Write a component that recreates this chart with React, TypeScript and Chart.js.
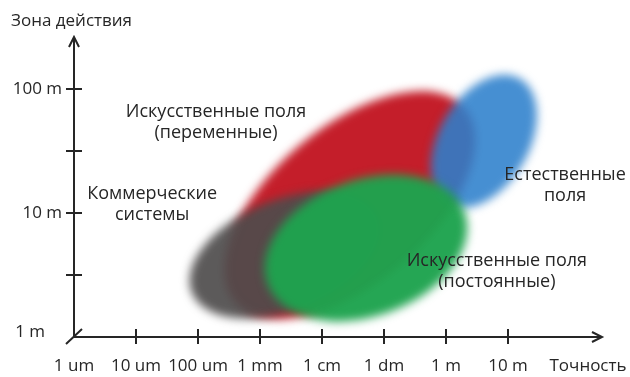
import React, { useEffect, useRef } from "react";
import { Chart, registerables } from "chart.js";

Chart.register(...registerables);

// Horizontal axis: accuracy, in decades above 1 um
const xTickLabels = ["1 um", "10 um", "100 um", "1 mm", "1 cm", "1 dm", "1 m", "10 m"];
const xTickValues = [0, 1, 2, 3, 4, 5, 6, 7];
// Vertical axis: range, in decades above 1 m
const yTickLabels = ["1 m", "10 m", "100 m"];
const yTickValues = [0, 1, 2];
const yMinorTicks = [0.5, 1.5];
const xAxisTitle = "Точность";
const yAxisTitle = "Зона действия";

// Zones (drawn in this order)
const zoneNames = [
  "Искусственные поля\n(переменные)",
  "Коммерческие\nсистемы",
  "Естественные\nполя",
  "Искусственные поля\n(постоянные)",
];
const zoneCenterX = [4.45, 3.4, 6.61, 4.71];
const zoneCenterY = [1.065, 0.661, 1.58, 0.718];
const zoneAxisEndX = [6.3, 4.9, 7.19, 6.3];
const zoneAxisEndY = [1.847, 0.964, 2.084, 1.007];
const zoneMinorRatio = [0.52, 0.55, 0.625, 0.65];
const zoneLabelX = [2.29, 1.26, 7.92, 6.82];
const zoneLabelY = [1.73, 1.07, 1.22, 0.53];
const zoneColors = [
  "rgba(196,30,42,1)",
  "rgba(78,76,76,0.92)",
  "rgba(44,128,204,0.88)",
  "rgba(30,163,78,0.97)",
];

const TEXT = "#262626";
const AXIS = "#262626";
const FONT_AXIS = "17px 'Open Sans'";
const FONT_ZONE = "18px 'Open Sans'";

const zonesPlugin = {
  id: "zones",
  beforeDatasetsDraw(chart: any) {
    const ctx = chart.ctx as CanvasRenderingContext2D;
    chart.data.datasets.forEach((_: any, i: number) => {
      const meta = chart.getDatasetMeta(i);
      const p0 = meta.data[0];
      const p1 = meta.data[1];
      const a = Math.hypot(p1.x - p0.x, p1.y - p0.y);
      const ang = Math.atan2(p1.y - p0.y, p1.x - p0.x);
      ctx.save();
      ctx.filter = "blur(5px)";
      ctx.fillStyle = zoneColors[i];
      ctx.beginPath();
      ctx.ellipse(p0.x, p0.y, a, a * zoneMinorRatio[i], ang, 0, Math.PI * 2);
      ctx.fill();
      ctx.restore();
    });
  },
  afterDraw(chart: any) {
    const ctx = chart.ctx as CanvasRenderingContext2D;
    const xs = chart.scales.x;
    const ys = chart.scales.y;
    const ox = xs.getPixelForValue(0);
    const oy = ys.getPixelForValue(0);
    const right = chart.chartArea.right;
    const top = chart.chartArea.top;
    ctx.save();
    ctx.strokeStyle = AXIS;
    ctx.lineWidth = 2;
    ctx.lineCap = "butt";
    // axes
    ctx.beginPath();
    ctx.moveTo(ox, oy);
    ctx.lineTo(ox, top + 1);
    ctx.moveTo(ox, oy);
    ctx.lineTo(right - 1, oy);
    // origin slash
    ctx.moveTo(ox - 8, oy + 7);
    ctx.lineTo(ox + 8, oy - 8);
    ctx.stroke();
    // arrows
    ctx.beginPath();
    ctx.moveTo(ox - 5, top + 10);
    ctx.lineTo(ox, top);
    ctx.lineTo(ox + 5, top + 10);
    ctx.moveTo(right - 10, oy - 5);
    ctx.lineTo(right, oy);
    ctx.lineTo(right - 10, oy + 5);
    ctx.stroke();
    // ticks
    ctx.beginPath();
    xTickValues.forEach((v) => {
      if (v === 0) return;
      const px = xs.getPixelForValue(v);
      ctx.moveTo(px, oy - 8);
      ctx.lineTo(px, oy + 7);
    });
    [...yTickValues, ...yMinorTicks].forEach((v) => {
      if (v === 0) return;
      const py = ys.getPixelForValue(v);
      ctx.moveTo(ox - 8, py);
      ctx.lineTo(ox + 8, py);
    });
    ctx.stroke();

    // labels
    ctx.fillStyle = TEXT;
    ctx.font = FONT_AXIS;
    ctx.textBaseline = "middle";
    ctx.textAlign = "center";
    xTickValues.forEach((v, i) => {
      ctx.fillText(xTickLabels[i], xs.getPixelForValue(v), oy + 29);
    });
    ctx.fillText(xAxisTitle, right - 14, oy + 29);
    ctx.textAlign = "right";
    yTickValues.forEach((v, i) => {
      const py = ys.getPixelForValue(v);
      if (v === 0) ctx.fillText(yTickLabels[i], ox - 29, py - 5);
      else ctx.fillText(yTickLabels[i], ox - 12, py);
    });
    ctx.textAlign = "left";
    ctx.fillText(yAxisTitle, 11, top - 16);

    // zone labels
    ctx.font = FONT_ZONE;
    ctx.textAlign = "center";
    zoneNames.forEach((name, i) => {
      const lines = name.split("\n");
      const cx = xs.getPixelForValue(zoneLabelX[i]);
      const cy = ys.getPixelForValue(zoneLabelY[i]);
      const lh = 21;
      lines.forEach((ln, j) => {
        ctx.fillText(ln, cx, cy + (j - (lines.length - 1) / 2) * lh);
      });
    });
    ctx.restore();
  },
};

export default function App() {
  const ref = useRef<HTMLCanvasElement>(null);
  useEffect(() => {
    document.body.style.margin = "0";
    const chart = new Chart(ref.current!, {
      type: "scatter",
      data: {
        datasets: zoneNames.map((name, i) => ({
          label: name,
          data: [
            { x: zoneCenterX[i], y: zoneCenterY[i] },
            { x: zoneAxisEndX[i], y: zoneAxisEndY[i] },
          ],
          pointRadius: 0,
          pointHoverRadius: 0,
          showLine: false,
        })),
      },
      options: {
        animation: false,
        responsive: false,
        devicePixelRatio: 1,
        layout: { padding: { left: 74, top: 37, right: 28, bottom: 40 } },
        scales: {
          x: { type: "linear", min: 0, max: 8.516, display: false },
          y: { type: "linear", min: 0, max: 2.419, display: false },
        },
        plugins: { legend: { display: false }, tooltip: { enabled: false } },
      },
      plugins: [zonesPlugin],
    } as any);
    return () => chart.destroy();
  }, []);
  return (
    <div style={{ position: "fixed", left: 0, top: 0, width: 630, height: 377, background: "#fff" }}>
      <canvas ref={ref} width={630} height={377} />
    </div>
  );
}
